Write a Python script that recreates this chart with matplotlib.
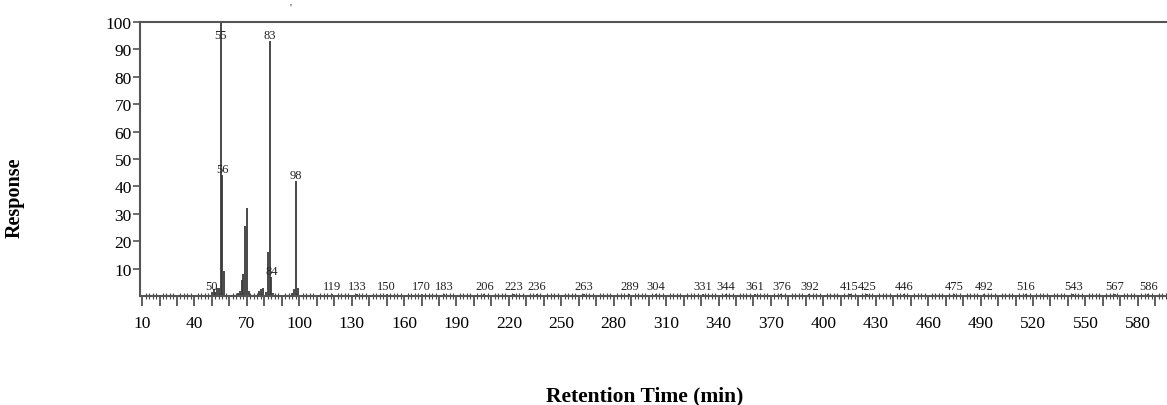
# ============================================================
# WIDMO / CHROMATOGRAM - odtworzenie wykresu
# ============================================================

import numpy as np
import matplotlib.pyplot as plt
from matplotlib.ticker import MultipleLocator, FuncFormatter

plt.rcParams["font.family"] = ["Liberation Serif", "DejaVu Serif"]

# ============================================================
# 1. DANE
# ============================================================

peak_x = [50, 51, 52, 53, 54, 55, 56, 57, 65, 66, 67, 68, 69, 70, 71,
          77, 78, 79, 81, 82, 83, 84, 85, 96, 97, 98, 99,
          119, 133, 150, 170, 183, 206, 223, 236, 263, 289, 304, 331,
          344, 361, 376, 392, 415, 425, 446, 475, 492, 516, 543, 567, 586]

peak_y = [1.5, 2.5, 1.5, 3, 3, 100, 44, 9, 1, 2, 6, 8, 25.5, 32, 2,
          2, 2.5, 3, 1.5, 16, 93, 7, 1, 1, 2.5, 42, 3,
          0.6, 0.6, 0.6, 0.6, 0.6, 0.6, 0.6, 0.6, 0.6, 0.6, 0.6, 0.6,
          0.6, 0.6, 0.6, 0.6, 0.6, 0.6, 0.6, 0.6, 0.6, 0.6, 0.6, 0.6, 0.6]

labeled = [50, 55, 56, 83, 84, 98, 119, 133, 150, 170, 183, 206, 223, 236,
           263, 289, 304, 331, 344, 361, 376, 392, 415, 425, 446, 475,
           492, 516, 543, 567, 586]

y_ticks = [10, 20, 30, 40, 50, 60, 70, 80, 90, 100]

# ============================================================
# 2. WYKRES
# ============================================================

fig = plt.figure(figsize=(11.67, 4.06), dpi=100)
ax = fig.add_axes([0.120, 0.2685, 0.880, 0.675])

ax.vlines(peak_x, 0, peak_y, color="#3a3a3a", linewidth=1.3)

# etykiety pikow
for x, y in zip(peak_x, peak_y):
    if x in labeled:
        ty = min(y, 93)
        if y < 2:
            ty = 1.4
        ax.text(x, ty, str(x), ha="center", va="bottom",
                fontsize=9, color="#222222")

ax.set_xlim(8.86, 596.7)
ax.set_ylim(0, 100)

# os X - linijka
ax.xaxis.set_major_locator(MultipleLocator(10))
ax.xaxis.set_minor_locator(MultipleLocator(2))
ax.xaxis.set_major_formatter(
    FuncFormatter(lambda v, p: f"{v:.0f}" if round(v - 10) % 30 == 0 else "")
)
ax.tick_params(axis="x", which="major", direction="out", length=7,
               width=1.1, labelsize=12.5, pad=7, color="#333333")
ax.tick_params(axis="x", which="minor", direction="inout", length=5,
               width=0.8, color="#444444")

# os Y
ax.set_yticks(y_ticks)
ax.tick_params(axis="y", which="major", direction="out", length=5,
               width=1.1, labelsize=12.5, pad=1, color="#444444")

for side in ["left", "bottom", "top"]:
    ax.spines[side].set_color("#555555")
    ax.spines[side].set_linewidth(1.5)
ax.spines["right"].set_visible(False)

# podpisy osi
fig.text(15 / 1167, 1 - 198 / 406, "Response", rotation=90,
         ha="center", va="center", fontsize=14.5, fontweight="bold")
fig.text(645 / 1167, 1 - 396 / 406, "Retention Time (min)",
         ha="center", va="center", fontsize=15.5, fontweight="bold")
fig.text(291 / 1167, 1 - 8 / 406, "'", ha="center", va="center",
         fontsize=8, color="#333333")

plt.savefig("out.png", dpi=100)
